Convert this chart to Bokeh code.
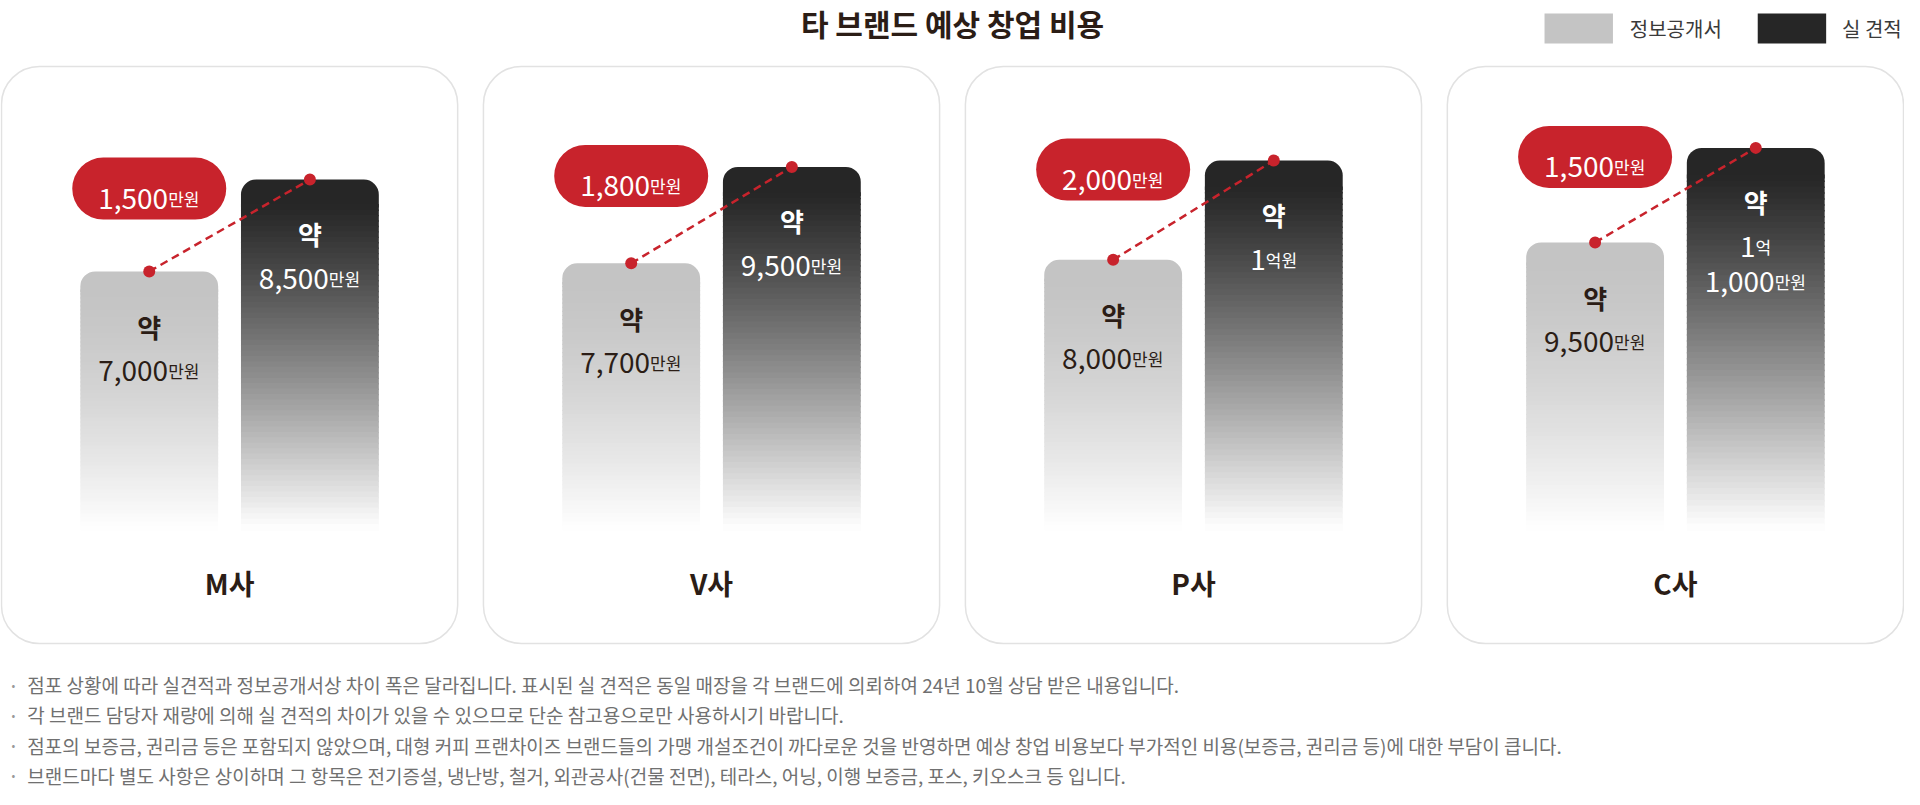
import numpy as np
from bokeh.plotting import figure
from bokeh.models import Range1d, ColumnDataSource
from bokeh.core.properties import value
from bokeh.embed import file_html
from bokeh.resources import INLINE

# ------------------------------------------------------------------ data
title_text = "타 브랜드 예상 창업 비용"
companies = ["M사", "V사", "P사", "C사"]
info_cost = [7000, 7700, 8000, 9500]         # 정보공개서 기준 (만원)
actual_cost = [8500, 9500, 10000, 11000]     # 실 견적 (만원)
series_names = ["정보공개서", "실 견적"]
approx_word = "약"
notes = [
    "점포 상황에 따라 실견적과 정보공개서상 차이 폭은 달라집니다. 표시된 실 견적은 동일 매장을 각 브랜드에 의뢰하여 24년 10월 상담 받은 내용입니다.",
    "각 브랜드 담당자 재량에 의해 실 견적의 차이가 있을 수 있으므로 단순 참고용으로만 사용하시기 바랍니다.",
    "점포의 보증금, 권리금 등은 포함되지 않았으며, 대형 커피 프랜차이즈 브랜드들의 가맹 개설조건이 까다로운 것을 반영하면 예상 창업 비용보다 부가적인 비용(보증금, 권리금 등)에 대한 부담이 큽니다.",
    "브랜드마다 별도 사항은 상이하며 그 항목은 전기증설, 냉난방, 철거, 외관공사(건물 전면), 테라스, 어닝, 이행 보증금, 포스, 키오스크 등 입니다.",
]

# ------------------------------------------------------------------ layout / style
REF_W = 1920
FIG_W, FIG_H = 1904, 789
Y_TOP, Y_BOT = 8, 8 + FIG_H          # page pixels covered by the figure

PANEL_W, PANEL_PITCH = 462, 486
PANEL_TOP, PANEL_BOTTOM = 74, 651
BAR_W, BAR_DX = 139, 81
BAR_FOOT_PX = 537
PILL_DROP_PX = 9

FONT = "Noto Sans CJK KR"
INK = "#2b1d16"
RED = "#c8232c"
GRAY_RGB = (196, 196, 196)
DARK_RGB = (38, 38, 38)


def hexc(rgb):
    return "#%02x%02x%02x" % rgb


def money_lines(v):
    eok, man = divmod(int(v), 10000)
    if eok == 0:
        return [(f"{man:,}", "만원")]
    if man == 0:
        return [(f"{eok}", "억원")]
    return [(f"{eok}", "억"), (f"{man:,}", "만원")]


def est_w(s, fs):
    w = 0.0
    for ch in s:
        if "\uac00" <= ch <= "\ud7a3":
            w += 0.93 * fs
        elif ch.isdigit():
            w += 0.555 * fs
        elif ch == ",":
            w += 0.26 * fs
        else:
            w += 0.25 * fs
    return w


p = figure(width=FIG_W, height=FIG_H,
           x_range=Range1d(0, REF_W), y_range=Range1d(Y_BOT, Y_TOP),
           x_axis_type=None, y_axis_type=None,
           toolbar_location=None, output_backend="svg", min_border=0,
           background_fill_color="white", border_fill_color="white",
           outline_line_color=None)
p.grid.visible = False

# two value scales (one per series), as in the original design
info_r = Range1d(-37634, 30343)
act_r = Range1d(-39553, 22612)
p.extra_y_ranges = {"info": info_r, "actual": act_r}


def px_of(rng, v):
    return Y_TOP + (Y_BOT - Y_TOP) * (rng.end - v) / (rng.end - rng.start)


def val_at(rng, px):
    return rng.end - (px - Y_TOP) / (Y_BOT - Y_TOP) * (rng.end - rng.start)


def units_per_px(rng):
    return (rng.end - rng.start) / (Y_BOT - Y_TOP)


n = len(companies)
centers = [PANEL_W / 2 + PANEL_PITCH * i for i in range(n)]
gray_x = [c - BAR_DX for c in centers]
dark_x = [c + BAR_DX for c in centers]

# panels
p.quad(left=[c - PANEL_W / 2 + 1 for c in centers], right=[c + PANEL_W / 2 - 1 for c in centers],
       top=[PANEL_TOP] * n, bottom=[PANEL_BOTTOM] * n,
       fill_color="white", line_color="#e2e2e2", line_width=1.5, border_radius=38)


def draw_bars(xs, tops, rng, rng_name, rgb, gamma, f0=0.07, N=60):
    base = val_at(rng, BAR_FOOT_PX)
    # rounded solid cap of the bar
    p.quad(left=[x - BAR_W / 2 for x in xs], right=[x + BAR_W / 2 for x in xs],
           top=tops, bottom=[t - (t - base) * (f0 + 0.01) for t in tops], y_range_name=rng_name,
           fill_color=hexc(rgb), line_color=None, border_radius=(15, 15, 0, 0))
    # fading body of the bar
    L, R, T, B, C = [], [], [], [], []
    for x, t in zip(xs, tops):
        h = t - base
        for i in range(N):
            fa = f0 + (1 - f0) * i / N
            fb = f0 + (1 - f0) * (i + 1) / N
            u = ((i + 0.5) / N) ** gamma
            col = tuple(int(round(c + (255 - c) * u)) for c in rgb)
            L.append(x - BAR_W / 2)
            R.append(x + BAR_W / 2)
            T.append(t - h * fa)
            B.append(t - h * fb - h * 0.004)
            C.append(hexc(col))
    src = ColumnDataSource(dict(left=L, right=R, top=T, bottom=B, color=C))
    p.quad(left="left", right="right", top="top", bottom="bottom", source=src,
           y_range_name=rng_name, fill_color="color", line_color=None)


draw_bars(gray_x, info_cost, info_r, "info", GRAY_RGB, 1.5)
draw_bars(dark_x, actual_cost, act_r, "actual", DARK_RGB, 1.15)

# connector between the two bar tops
info_in_act = [val_at(act_r, px_of(info_r, v)) for v in info_cost]
p.segment(x0=gray_x, y0=info_in_act, x1=dark_x, y1=actual_cost, y_range_name="actual",
          line_color=RED, line_width=2.5, line_dash="8 5")
p.scatter(x=gray_x, y=info_cost, size=12, fill_color=RED, line_color=None, y_range_name="info")
p.scatter(x=dark_x, y=actual_cost, size=12, fill_color=RED, line_color=None, y_range_name="actual")

# difference pills
gap = [a - b for a, b in zip(actual_cost, info_cost)]
pill_y = [v - PILL_DROP_PX * units_per_px(act_r) for v in actual_cost]
p.rect(x=gray_x, y=pill_y, width=154, height=62, width_units="screen", height_units="screen",
       fill_color=RED, line_color=None, border_radius=31, y_range_name="actual")


def add_amount(xs, ys, vals, rng_name, color, first_off, num_size=28, unit_size=17, gap_px=35):
    rows = dict(x=[], y=[], num=[], unit=[], xo=[], yo=[])
    for x, y, v in zip(xs, ys, vals):
        for j, (num, unit) in enumerate(money_lines(v)):
            wn, wu = est_w(num, num_size), est_w(unit, unit_size)
            rows["x"].append(x)
            rows["y"].append(y)
            rows["num"].append(num)
            rows["unit"].append(unit)
            rows["xo"].append((wn - wu) / 2)
            rows["yo"].append(first_off + gap_px * j)
    src = ColumnDataSource(rows)
    p.text(x="x", y="y", text="num", x_offset="xo", y_offset="yo", source=src,
           y_range_name=rng_name, text_font=value(FONT), text_font_size=f"{num_size}px",
           text_color=color, text_align="right", text_baseline="alphabetic")
    p.text(x="x", y="y", text="unit", x_offset="xo", y_offset="yo", source=src,
           y_range_name=rng_name, text_font=value(FONT), text_font_size=f"{unit_size}px",
           text_color=color, text_align="left", text_baseline="alphabetic")


add_amount(gray_x, pill_y, gap, "actual", "white", 10)
add_amount(gray_x, info_cost, info_cost, "info", INK, 99)
add_amount(dark_x, actual_cost, actual_cost, "actual", "white", 99)

p.text(x=gray_x, y=info_cost, text=[approx_word] * n, y_offset=55, y_range_name="info",
       text_font=value(FONT), text_font_size="26px", text_font_style="bold",
       text_color=INK, text_align="center", text_baseline="middle")
p.text(x=dark_x, y=actual_cost, text=[approx_word] * n, y_offset=54, y_range_name="actual",
       text_font=value(FONT), text_font_size="26px", text_font_style="bold",
       text_color="white", text_align="center", text_baseline="middle")

# company names
p.text(x=centers, y=[590] * n, text=companies, text_font=value(FONT), text_font_size="28px",
       text_font_style="bold", text_color=INK, text_align="center", text_baseline="middle")

# title
p.text(x=[REF_W / 2], y=[30.5], text=[title_text], text_font=value(FONT), text_font_size="30px",
       text_font_style="bold", text_color=INK, text_align="center", text_baseline="middle")

# legend
p.quad(left=[1557, 1772], right=[1626, 1841], top=[21, 21], bottom=[51, 51],
       fill_color=[hexc(GRAY_RGB), hexc(DARK_RGB)], line_color=None)
p.text(x=[1643, 1857], y=[36, 36], text=series_names, text_font=value(FONT),
       text_font_size="20px", text_color="#3a3a3a", text_align="left", text_baseline="middle")

# footnotes
ny = [692 + 30.3 * i for i in range(len(notes))]
p.text(x=[13] * len(notes), y=ny, text=["•"] * len(notes), text_font=value(FONT),
       text_font_size="11px", text_color="#9a9a9a", text_align="center", text_baseline="middle")
p.text(x=[27] * len(notes), y=ny, text=notes, text_font=value(FONT),
       text_font_size="19px", text_color="#707070", text_align="left", text_baseline="middle")

open("out.html", "w").write(file_html(p, INLINE))
